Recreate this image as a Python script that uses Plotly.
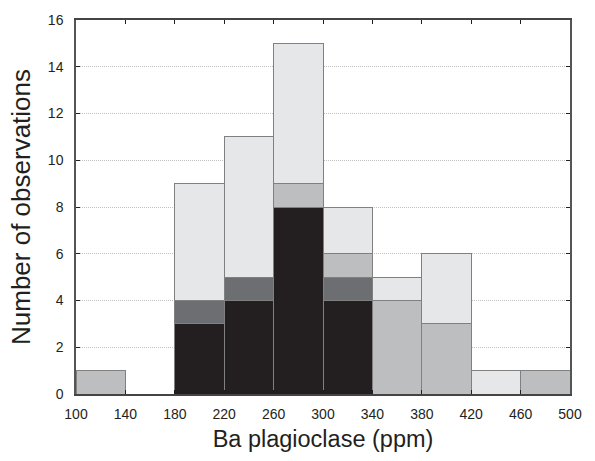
import plotly.graph_objects as go

bin_centers = [120, 160, 200, 240, 280, 320, 360, 400, 440, 480]
black_vals = [0, 0, 3, 4, 8, 4, 0, 0, 0, 0]
dark_vals = [0, 0, 1, 1, 0, 1, 0, 0, 0, 0]
medium_vals = [1, 0, 0, 0, 1, 1, 4, 3, 0, 1]
light_vals = [0, 0, 5, 6, 6, 2, 1, 3, 1, 0]
x_ticks = [100, 140, 180, 220, 260, 300, 340, 380, 420, 460, 500]
y_ticks = [0, 2, 4, 6, 8, 10, 12, 14, 16]

series = [
    (black_vals, "#231f20"),
    (dark_vals, "#6d6e71"),
    (medium_vals, "#bcbec0"),
    (light_vals, "#e6e7e8"),
]

fig = go.Figure()
for vals, col in series:
    fig.add_trace(go.Bar(
        x=bin_centers, y=vals, width=40,
        marker=dict(color=col, line=dict(color="#808080", width=1)),
        showlegend=False,
    ))

fig.update_layout(
    barmode="stack",
    width=595, height=461,
    margin=dict(l=76, r=25, t=13, b=67),
    plot_bgcolor="white", paper_bgcolor="white",
    font=dict(family="Liberation Sans, Arial, sans-serif", color="#231f20"),
    xaxis=dict(
        range=[100, 500], tickvals=x_ticks, ticks="inside", ticklen=4,
        tickcolor="#231f20", showline=True, linecolor="#444444", linewidth=1.5,
        mirror="ticks", showgrid=False, zeroline=False,
        tickfont=dict(size=14), ticklabelstandoff=6,
        title=dict(text="Ba plagioclase (ppm)", font=dict(size=23.5), standoff=10),
    ),
    yaxis=dict(
        range=[0, 16], tickvals=y_ticks, ticks="inside", ticklen=4,
        tickcolor="#231f20", showline=True, linecolor="#555555", linewidth=1.5,
        mirror="ticks", showgrid=True, gridcolor="#c0c0c0", griddash="1px,1px",
        gridwidth=1, zeroline=False,
        tickfont=dict(size=14), ticklabelstandoff=8,
        title=dict(text="Number of observations", font=dict(size=26), standoff=10),
    ),
)

fig.write_html(
    "out.html",
    config={"displayModeBar": False},
    post_script="document.body.style.margin='0';document.body.style.overflow='hidden';",
)
